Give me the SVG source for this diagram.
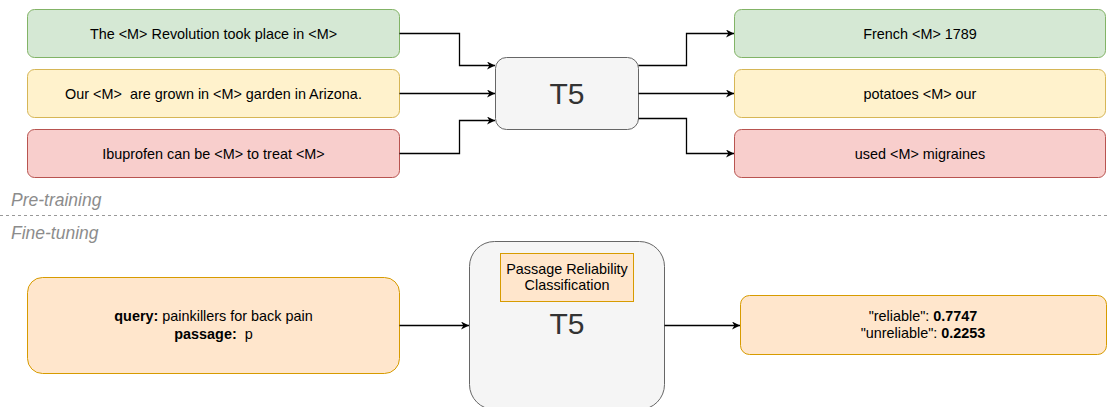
<svg xmlns="http://www.w3.org/2000/svg" width="1108" height="407" viewBox="0 0 1108 407">
<defs>
<style>
.t{font-family:"Liberation Sans",Arial,sans-serif;font-size:14.4px;fill:#000;text-anchor:middle;white-space:pre}
.big{font-family:"Liberation Sans",Arial,sans-serif;font-size:30px;fill:#333;text-anchor:middle}
.sec{font-family:"Liberation Sans",Arial,sans-serif;font-size:17.5px;font-style:italic;fill:#8c8c8c}
.g{fill:#d5e8d4;stroke:#82b366}
.y{fill:#fff2cc;stroke:#d6b656}
.r{fill:#f8cecc;stroke:#b85450}
.o{fill:#ffe6cc;stroke:#d79b00}
.m{fill:#f5f5f5;stroke:#666666}
.c{fill:none;stroke:#000;stroke-width:1.3}
</style>
<marker id="a" viewBox="0 0 10 10" refX="10" refY="5" markerWidth="8" markerHeight="8" markerUnits="userSpaceOnUse" orient="auto"><path d="M0,0 L10,5 L0,10 L3,5 Z" fill="#000"/></marker>
</defs>
<rect width="1108" height="407" fill="#fff"/>
<g id="in1"><rect class="g" x="27.5" y="9.5" width="372" height="48" rx="7"/><text class="t" x="213.5" y="38.5">The &lt;M&gt; Revolution took place in &lt;M&gt;</text></g>
<g id="in2"><rect class="y" x="27.5" y="69.5" width="372" height="48" rx="7"/><text class="t" x="213.5" y="98.5" xml:space="preserve">Our &lt;M&gt;  are grown in &lt;M&gt; garden in Arizona.</text></g>
<g id="in3"><rect class="r" x="27.5" y="129.5" width="372" height="48" rx="7"/><text class="t" x="213.5" y="158.5">Ibuprofen can be &lt;M&gt; to treat &lt;M&gt;</text></g>
<g id="t5a"><rect class="m" x="495.5" y="57.5" width="143" height="72" rx="11"/><text class="big" x="567" y="104">T5</text></g>
<g id="out1"><rect class="g" x="734.5" y="9.5" width="371" height="48" rx="7"/><text class="t" x="920" y="38.5">French &lt;M&gt; 1789</text></g>
<g id="out2"><rect class="y" x="734.5" y="69.5" width="371" height="48" rx="7"/><text class="t" x="920" y="98.5">potatoes &lt;M&gt; our</text></g>
<g id="out3"><rect class="r" x="734.5" y="129.5" width="371" height="48" rx="7"/><text class="t" x="920" y="158.5">used &lt;M&gt; migraines</text></g>
<g id="sections">
<text class="sec" x="11" y="206">Pre-training</text>
<line x1="0" y1="215.5" x2="1108" y2="215.5" stroke="#999" stroke-dasharray="3,3"/>
<text class="sec" x="11" y="239">Fine-tuning</text>
</g>
<g id="query"><rect class="o" x="27.5" y="277.5" width="372" height="96" rx="15"/><text class="t" x="213.5" y="321"><tspan font-weight="bold">query:</tspan> painkillers for back pain</text><text class="t" x="213.5" y="339" xml:space="preserve"><tspan font-weight="bold">passage:</tspan>  p</text></g>
<g id="t5b"><rect class="m" x="469.5" y="241.5" width="195" height="168" rx="25"/><rect class="o" x="500.5" y="253.5" width="133" height="48"/><text class="t" x="567" y="273.5">Passage Reliability</text><text class="t" x="567" y="290">Classification</text><text class="big" x="567" y="334">T5</text></g>
<g id="result"><rect class="o" x="740.5" y="295.5" width="366" height="59" rx="9"/><text class="t" x="923" y="320.5">"reliable": <tspan font-weight="bold">0.7747</tspan></text><text class="t" x="923" y="337.5">"unreliable": <tspan font-weight="bold">0.2253</tspan></text></g>
<g id="connectors">
<path class="c" d="M399.5,33.5 H459.5 V65.5 H495" marker-end="url(#a)"/>
<path class="c" d="M399.5,93.5 H495" marker-end="url(#a)"/>
<path class="c" d="M399.5,153.5 H459.5 V120.5 H495" marker-end="url(#a)"/>
<path class="c" d="M638.5,65.5 H686.5 V33.5 H734" marker-end="url(#a)"/>
<path class="c" d="M638.5,93.5 H734" marker-end="url(#a)"/>
<path class="c" d="M638.5,118.5 H686.5 V153.5 H734" marker-end="url(#a)"/>
<path class="c" d="M399.5,325.5 H469" marker-end="url(#a)"/>
<path class="c" d="M664.5,325.5 H740" marker-end="url(#a)"/>
</g>
</svg>
